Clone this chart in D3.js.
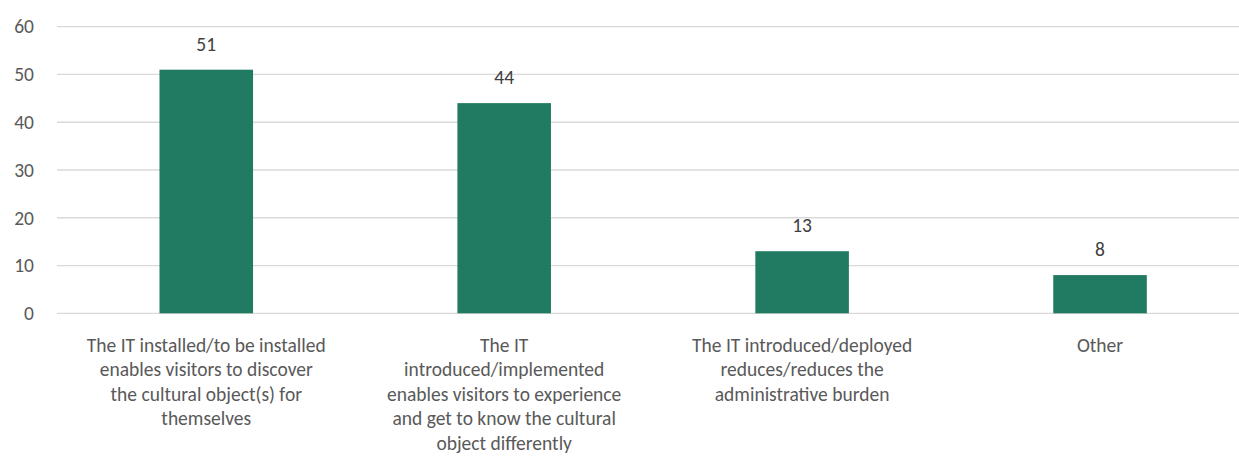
<!DOCTYPE html>
<html>
<head>
<meta charset="utf-8">
<script src="https://cdn.jsdelivr.net/npm/d3@7"></script>
<style>
  html, body { margin: 0; padding: 0; background: #fff; }
  svg { display: block; }
</style>
</head>
<body>
<svg id="chart" width="1239" height="471"></svg>
<script>
const categories = [
  "The IT installed/to be installed\nenables visitors to discover\nthe cultural object(s) for\nthemselves",
  "The IT\nintroduced/implemented\nenables visitors to experience\nand get to know the cultural\nobject differently",
  "The IT introduced/deployed\nreduces/reduces the\nadministrative burden",
  "Other"
];
const values = [51, 44, 13, 8];
const yTicks = [0, 10, 20, 30, 40, 50, 60];

const FONT = "Carlito, Calibri, Lato, 'Open Sans', sans-serif";
const FS = "19.5px";
const svg = d3.select("#chart");

const x = d3.scaleBand()
  .domain(categories)
  .range([57.3, 1249])
  .paddingInner(0.686)
  .paddingOuter(0.343);

const y = d3.scaleLinear().domain([0, 60]).range([313.3, 26.7]);

// gridlines
svg.append("g")
  .selectAll("line")
  .data(yTicks)
  .join("line")
  .attr("x1", 57).attr("x2", 1239)
  .attr("y1", d => y(d)).attr("y2", d => y(d))
  .attr("stroke", "#d9d9d9").attr("stroke-width", 1.3);

// y axis labels
const yAxis = d3.axisLeft(y).tickValues(yTicks).tickSize(0).tickPadding(0);
const gy = svg.append("g").attr("transform", "translate(34,0)").call(yAxis);
gy.select(".domain").remove();
gy.selectAll("text")
  .attr("fill", "#595959")
  .style("font-family", FONT)
  .style("font-size", FS);

// bars
svg.append("g")
  .selectAll("rect")
  .data(values)
  .join("rect")
  .attr("x", (d, i) => x(categories[i]))
  .attr("width", x.bandwidth())
  .attr("y", d => y(d))
  .attr("height", d => y(0) - y(d))
  .attr("fill", "#217a62");

// value labels
svg.append("g")
  .selectAll("text")
  .data(values)
  .join("text")
  .attr("x", (d, i) => x(categories[i]) + x.bandwidth() / 2)
  .attr("y", d => y(d) - 19)
  .attr("text-anchor", "middle")
  .attr("fill", "#404040")
  .style("font-family", FONT)
  .style("font-size", FS)
  .text(d => d);

// category labels
const gx = svg.append("g");
categories.forEach(c => {
  const lines = c.split("\n");
  const t = gx.append("text")
    .attr("text-anchor", "middle")
    .attr("fill", "#595959")
    .style("font-family", FONT)
    .style("font-size", FS);
  lines.forEach((ln, j) => {
    t.append("tspan")
      .attr("x", x(c) + x.bandwidth() / 2)
      .attr("y", 352 + j * 24.4)
      .text(ln);
  });
});
</script>
</body>
</html>
